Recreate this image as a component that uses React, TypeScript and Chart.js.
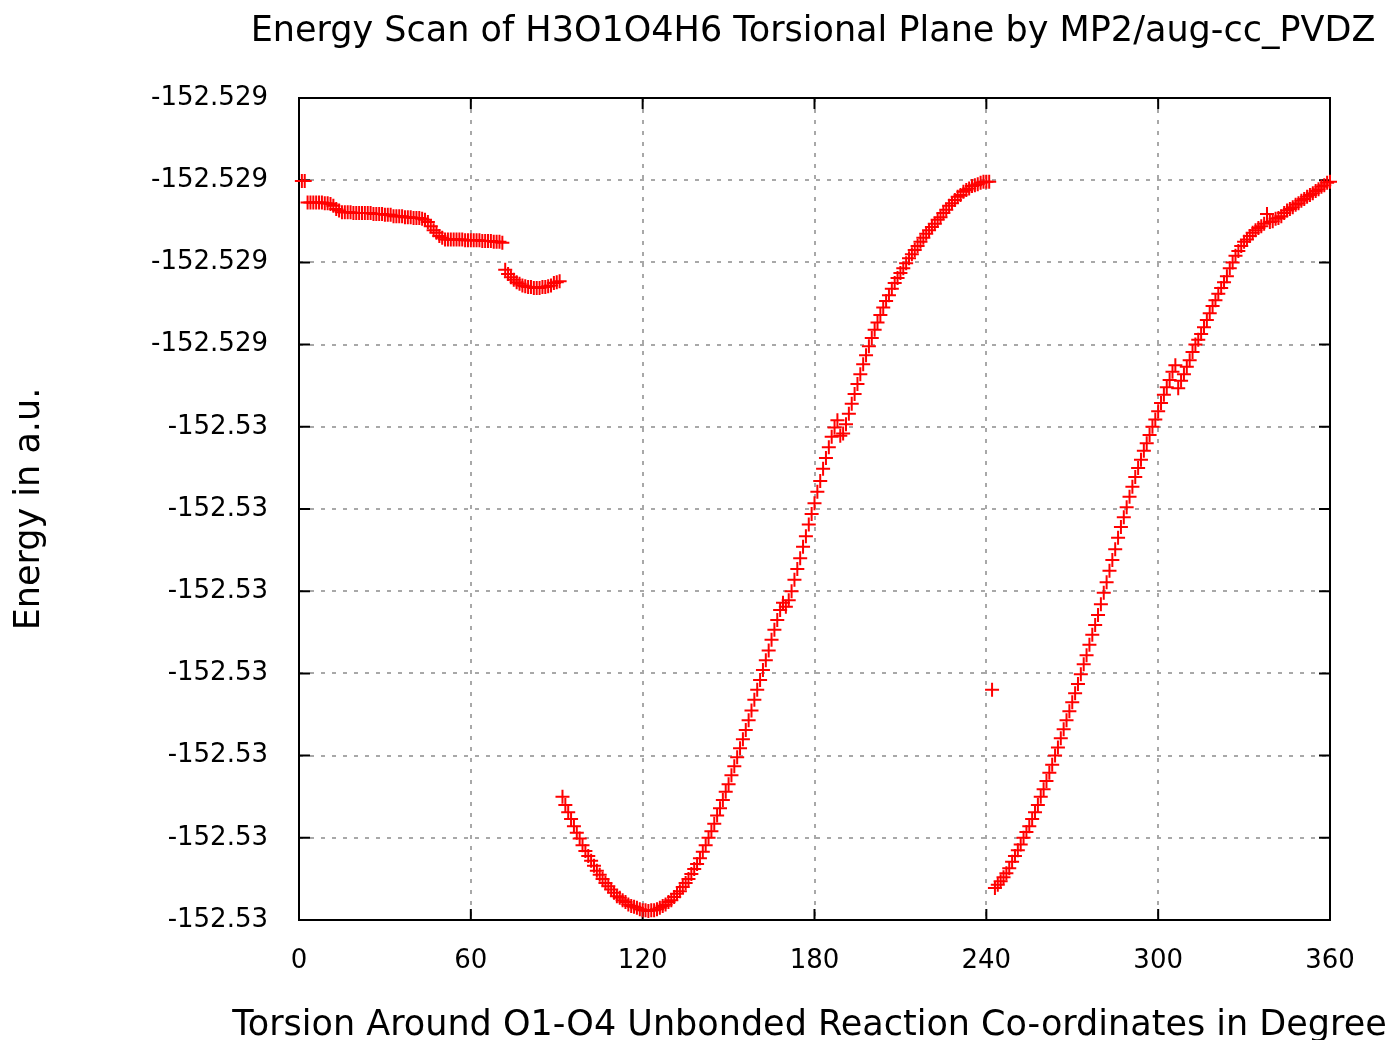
import React, { useEffect, useRef } from 'react';
import { Chart, registerables } from 'chart.js';

Chart.register(...registerables);

const CHART_TITLE = 'Energy Scan of H3O1O4H6 Torsional Plane by MP2/aug-cc_PVDZ';
const X_AXIS_TITLE = 'Torsion Around O1-O4 Unbonded Reaction Co-ordinates in Degree';
const Y_AXIS_TITLE = 'Energy in a.u.';

const X_TICKS = [0, 60, 120, 180, 240, 300, 360];
const X_TICK_LABELS = ['0', '60', '120', '180', '240', '300', '360'];

const Y_TICKS = [
  -152.5302, -152.5301, -152.53, -152.5299, -152.5298, -152.5297,
  -152.5296, -152.5295, -152.5294, -152.5293, -152.5292,
];
const Y_TICK_LABELS = [
  '-152.53', '-152.53', '-152.53', '-152.53', '-152.53', '-152.53',
  '-152.53', '-152.529', '-152.529', '-152.529', '-152.529',
];

const TORSION_DEG = [
  1, 2, 3, 4, 5, 6, 7, 8, 9, 10,
  11, 12, 13, 14, 15, 16, 17, 18, 19, 20,
  21, 22, 23, 24, 25, 26, 27, 28, 29, 30,
  31, 32, 33, 34, 35, 36, 37, 38, 39, 40,
  41, 42, 43, 44, 45, 46, 47, 48, 49, 50,
  51, 52, 53, 54, 55, 56, 57, 58, 59, 60,
  61, 62, 63, 64, 65, 66, 67, 68, 69, 70,
  71, 72, 73, 74, 75, 76, 77, 78, 79, 80,
  81, 82, 83, 84, 85, 86, 87, 88, 89, 90,
  91, 92, 93, 94, 95, 96, 97, 98, 99, 100,
  101, 102, 103, 104, 105, 106, 107, 108, 109, 110,
  111, 112, 113, 114, 115, 116, 117, 118, 119, 120,
  121, 122, 123, 124, 125, 126, 127, 128, 129, 130,
  131, 132, 133, 134, 135, 136, 137, 138, 139, 140,
  141, 142, 143, 144, 145, 146, 147, 148, 149, 150,
  151, 152, 153, 154, 155, 156, 157, 158, 159, 160,
  161, 162, 163, 164, 165, 166, 167, 168, 169, 170,
  171, 172, 173, 174, 175, 176, 177, 178, 179, 180,
  181, 182, 183, 184, 185, 186, 187, 188, 189, 190,
  191, 192, 193, 194, 195, 196, 197, 198, 199, 200,
  201, 202, 203, 204, 205, 206, 207, 208, 209, 210,
  211, 212, 213, 214, 215, 216, 217, 218, 219, 220,
  221, 222, 223, 224, 225, 226, 227, 228, 229, 230,
  231, 232, 233, 234, 235, 236, 237, 238, 239, 240,
  241, 242, 243, 244, 245, 246, 247, 248, 249, 250,
  251, 252, 253, 254, 255, 256, 257, 258, 259, 260,
  261, 262, 263, 264, 265, 266, 267, 268, 269, 270,
  271, 272, 273, 274, 275, 276, 277, 278, 279, 280,
  281, 282, 283, 284, 285, 286, 287, 288, 289, 290,
  291, 292, 293, 294, 295, 296, 297, 298, 299, 300,
  301, 302, 303, 304, 305, 306, 307, 308, 309, 310,
  311, 312, 313, 314, 315, 316, 317, 318, 319, 320,
  321, 322, 323, 324, 325, 326, 327, 328, 329, 330,
  331, 332, 333, 334, 335, 336, 337, 338, 339, 340,
  341, 342, 343, 344, 345, 346, 347, 348, 349, 350,
  351, 352, 353, 354, 355, 356, 357, 358, 359, 360,
];

const ENERGY_HARTREE = [
  -152.529301, -152.529301, -152.529327, -152.529327, -152.529327, -152.529327, -152.529327, -152.529327, -152.529328, -152.529328,
  -152.529329, -152.529331, -152.529335, -152.529337, -152.529339, -152.529339, -152.529339, -152.529339, -152.52934, -152.52934,
  -152.52934, -152.52934, -152.52934, -152.52934, -152.52934, -152.529341, -152.529341, -152.529341, -152.529341, -152.529342,
  -152.529342, -152.529342, -152.529344, -152.529344, -152.529344, -152.529344, -152.529345, -152.529345, -152.529345, -152.529346,
  -152.529346, -152.529346, -152.529347, -152.529348, -152.529351, -152.529356, -152.529361, -152.529364, -152.529368, -152.52937,
  -152.529372, -152.529372, -152.529372, -152.529372, -152.529372, -152.529372, -152.529372, -152.529373, -152.529373, -152.529373,
  -152.529373, -152.529373, -152.529373, -152.529374, -152.529374, -152.529374, -152.529374, -152.529375, -152.529375, -152.529375,
  -152.529376, -152.529409, -152.529414, -152.529418, -152.529421, -152.529424, -152.529426, -152.529428, -152.529429, -152.52943,
  -152.52943, -152.529431, -152.529431, -152.529431, -152.52943, -152.52943, -152.529429, -152.529428, -152.529425, -152.529424,
  -152.529423, -152.53005, -152.53006, -152.530069, -152.530077, -152.530086, -152.530094, -152.530101, -152.530109, -152.530116,
  -152.530122, -152.530128, -152.530134, -152.53014, -152.530145, -152.53015, -152.530155, -152.530159, -152.530163, -152.530167,
  -152.530171, -152.530173, -152.530176, -152.530178, -152.530181, -152.530183, -152.530184, -152.530185, -152.530187, -152.530188,
  -152.530188, -152.530189, -152.530188, -152.530188, -152.530187, -152.530185, -152.530183, -152.530181, -152.530178, -152.530176,
  -152.530172, -152.530168, -152.530165, -152.53016, -152.530155, -152.53015, -152.530144, -152.530138, -152.530132, -152.530125,
  -152.530117, -152.530109, -152.5301, -152.530092, -152.530083, -152.530073, -152.530064, -152.530054, -152.530044, -152.530035,
  -152.530024, -152.530013, -152.530002, -152.529991, -152.52998, -152.529969, -152.529957, -152.529945, -152.529932, -152.52992,
  -152.529908, -152.529896, -152.529884, -152.529872, -152.529859, -152.529847, -152.529835, -152.529823, -152.529814, -152.529819,
  -152.529811, -152.5298, -152.529786, -152.529773, -152.52976, -152.529746, -152.529733, -152.529719, -152.529706, -152.529693,
  -152.529679, -152.529666, -152.529651, -152.529638, -152.529625, -152.529612, -152.529601, -152.529592, -152.529611, -152.529608,
  -152.529597, -152.529584, -152.529572, -152.52956, -152.529548, -152.529536, -152.529524, -152.529513, -152.529502, -152.529492,
  -152.529482, -152.529473, -152.529464, -152.529455, -152.529447, -152.52944, -152.529432, -152.529425, -152.529419, -152.529413,
  -152.529407, -152.529401, -152.529395, -152.52939, -152.529385, -152.52938, -152.529375, -152.52937, -152.529365, -152.529361,
  -152.529357, -152.529353, -152.529348, -152.529345, -152.52934, -152.529336, -152.529331, -152.529328, -152.529324, -152.52932,
  -152.529318, -152.529314, -152.529312, -152.52931, -152.529307, -152.529306, -152.529305, -152.529303, -152.529302, -152.529302,
  -152.529302, -152.52992, -152.530161, -152.530157, -152.530153, -152.530148, -152.530143, -152.530137, -152.530129, -152.530122,
  -152.530115, -152.530108, -152.5301, -152.530093, -152.530086, -152.530077, -152.530069, -152.53006, -152.53005, -152.530041,
  -152.530031, -152.530021, -152.530011, -152.5300, -152.52999, -152.529979, -152.529968, -152.529957, -152.529946, -152.529935,
  -152.529924, -152.529913, -152.529901, -152.529889, -152.529878, -152.529865, -152.529853, -152.529841, -152.529829, -152.529816,
  -152.529802, -152.529789, -152.529775, -152.529762, -152.529749, -152.529735, -152.529722, -152.52971, -152.529698, -152.529685,
  -152.529673, -152.529661, -152.52965, -152.52964, -152.529629, -152.52962, -152.52961, -152.5296, -152.529591, -152.529581,
  -152.529571, -152.529561, -152.529552, -152.529543, -152.529533, -152.529525, -152.529553, -152.529544, -152.529536, -152.529527,
  -152.529519, -152.529509, -152.5295, -152.529494, -152.529487, -152.529479, -152.52947, -152.529462, -152.529453, -152.529446,
  -152.529438, -152.529431, -152.529424, -152.529417, -152.529407, -152.5294, -152.529392, -152.529386, -152.52938, -152.529375,
  -152.529372, -152.529368, -152.529364, -152.529361, -152.529358, -152.529356, -152.529353, -152.529341, -152.529351, -152.52935,
  -152.529347, -152.529346, -152.529344, -152.52934, -152.529337, -152.529335, -152.529333, -152.52933, -152.529328, -152.529325,
  -152.529323, -152.52932, -152.529318, -152.529316, -152.529313, -152.529311, -152.529308, -152.529306, -152.529303, -152.529302,
];

const FONT_FAMILY = '"DejaVu Sans", "Liberation Sans", sans-serif';
const TICK_LEN = 11;

const gnuplotFrame = {
  id: 'gnuplotFrame',
  beforeDatasetsDraw(chart: any) {
    const { ctx, chartArea } = chart;
    const { left, right, top, bottom } = chartArea;
    const xs = chart.scales.x;
    const ys = chart.scales.y;
    ctx.save();
    ctx.setLineDash([]);
    ctx.strokeStyle = '#000000';
    ctx.lineWidth = 2;
    ctx.strokeRect(left, top, right - left, bottom - top);
    ctx.beginPath();
    for (const v of X_TICKS) {
      const px = xs.getPixelForValue(v);
      ctx.moveTo(px, bottom);
      ctx.lineTo(px, bottom - TICK_LEN);
      ctx.moveTo(px, top);
      ctx.lineTo(px, top + TICK_LEN);
    }
    for (const v of Y_TICKS) {
      const py = ys.getPixelForValue(v);
      ctx.moveTo(left, py);
      ctx.lineTo(left + TICK_LEN, py);
      ctx.moveTo(right, py);
      ctx.lineTo(right - TICK_LEN, py);
    }
    ctx.stroke();
    ctx.restore();
  },
  afterDraw(chart: any) {
    const { ctx, chartArea } = chart;
    const cx = (chartArea.left + chartArea.right) / 2;
    ctx.save();
    ctx.fillStyle = '#000000';
    ctx.textAlign = 'center';
    ctx.textBaseline = 'alphabetic';
    ctx.font = `35px ${FONT_FAMILY}`;
    ctx.fillText(CHART_TITLE, cx - 1.5, 41);
    ctx.fillText(X_AXIS_TITLE, cx - 5, 1035);
    ctx.restore();
  },
};

export default function App() {
  const canvasRef = useRef<HTMLCanvasElement>(null);

  useEffect(() => {
    const canvas = canvasRef.current;
    if (!canvas) return;
    const points = TORSION_DEG.map((d, i) => ({ x: d, y: ENERGY_HARTREE[i] }));
    const chart = new Chart(canvas, {
      type: 'scatter',
      data: {
        datasets: [
          {
            label: 'MP2/aug-cc_PVDZ',
            data: points,
            pointStyle: 'cross',
            pointRadius: 7,
            pointHoverRadius: 7,
            borderColor: '#ff0000',
            backgroundColor: '#ff0000',
            borderWidth: 2,
            showLine: false,
            clip: false,
          } as any,
        ],
      },
      options: {
        responsive: false,
        animation: false,
        devicePixelRatio: 1,
        events: [],
        layout: { padding: { top: 98, right: 66, bottom: 0, left: 0 } },
        plugins: {
          legend: { display: false },
          title: { display: false },
          tooltip: { enabled: false },
        },
        scales: {
          x: {
            type: 'linear',
            min: 0,
            max: 360,
            afterBuildTicks: (scale: any) => {
              scale.ticks = X_TICKS.map((v) => ({ value: v }));
            },
            afterFit: (scale: any) => {
              scale.height = 120;
            },
            grid: { color: '#a8a8a8', lineWidth: 2, drawTicks: false },
            border: { display: false, dash: [4, 7] },
            ticks: {
              autoSkip: false,
              maxRotation: 0,
              padding: 26,
              color: '#000000',
              font: { family: FONT_FAMILY, size: 26 },
              callback: (_v: any, i: number) => X_TICK_LABELS[i],
            },
          },
          y: {
            type: 'linear',
            min: -152.5302,
            max: -152.5292,
            afterBuildTicks: (scale: any) => {
              scale.ticks = Y_TICKS.map((v) => ({ value: v }));
            },
            afterFit: (scale: any) => {
              scale.width = 299;
            },
            grid: { color: '#a8a8a8', lineWidth: 2, drawTicks: false },
            border: { display: false, dash: [4, 7] },
            ticks: {
              autoSkip: false,
              padding: 31,
              color: '#000000',
              font: { family: FONT_FAMILY, size: 26 },
              callback: (_v: any, i: number) => Y_TICK_LABELS[i],
            },
            title: {
              display: true,
              text: Y_AXIS_TITLE,
              color: '#000000',
              font: { family: FONT_FAMILY, size: 35 },
              padding: { top: 9, bottom: 0 },
            },
          },
        },
      } as any,
      plugins: [gnuplotFrame],
    });
    return () => chart.destroy();
  }, []);

  return (
    <div style={{ position: 'fixed', left: 0, top: 0, width: 1396, height: 1040, background: '#ffffff' }}>
      <canvas ref={canvasRef} width={1396} height={1040} style={{ display: 'block', width: 1396, height: 1040 }} />
    </div>
  );
}
